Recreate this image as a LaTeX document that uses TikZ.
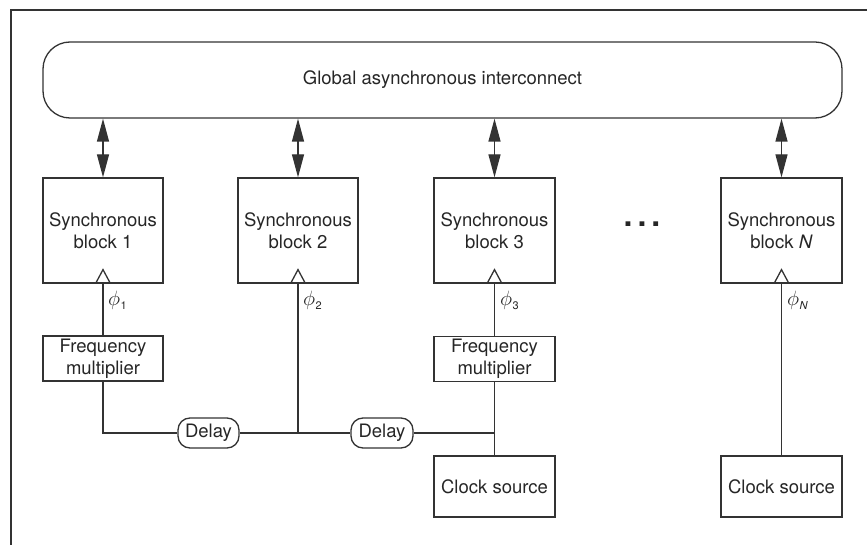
\documentclass[tikz,border=0pt]{standalone}
\usepackage{fontspec}
\setmainfont{TeX Gyre Heros}
\usetikzlibrary{arrows.meta}
\definecolor{linecol}{HTML}{333333}
\definecolor{txtcol}{HTML}{262626}
\newcommand{\phisub}[1]{$\phi$\kern0.5pt\raisebox{-4pt}{\fontsize{11}{11}\selectfont #1}}
\tikzset{
  base/.style={draw=linecol, line width=1.3pt, text=txtcol, align=center, inner sep=0pt,
    font=\fontsize{18.5}{22}\selectfont},
  blk/.style={base, minimum width=120pt, minimum height=105pt},
  fmbox/.style={base, minimum width=120pt, minimum height=45pt},
  csbox/.style={base, minimum width=121pt, minimum height=61pt},
  delaybox/.style={base, minimum width=61pt, minimum height=30pt, rounded corners=12pt},
  wire/.style={draw=linecol, line width=1.3pt},
  biarrow/.style={wire, {Triangle[length=23pt,width=12pt]}-{Triangle[length=23pt,width=12pt]}},
  phil/.style={anchor=west, text=txtcol, font=\fontsize{22}{24}\selectfont, inner sep=0pt},
}
\begin{document}
\begin{tikzpicture}[x=1pt,y=-1pt]
\useasboundingbox (0,0) rectangle (867,545);
% frame
\draw[wire, line width=1.5pt] (11,545) -- (11,10) -- (867,10);
% interconnect
\node[base, minimum width=799pt, minimum height=76pt, rounded corners=27pt] (bus) at (442.5,80) {Global asynchronous interconnect};
% blocks
\node[blk] (b1) at (103,230.5) {Synchronous\\block 1};
\node[blk] (b2) at (298,230.5) {Synchronous\\block 2};
\node[blk, minimum width=121pt] (b3) at (494.5,230.5) {Synchronous\\block 3};
\node[blk, minimum width=121pt] (bN) at (781.5,230.5) {Synchronous\\block \textit{N}};
% ellipsis
\node[text=txtcol, inner sep=0pt, font=\fontsize{32}{32}\bfseries] (dots) at (642,224) {.\kern5pt.\kern5pt.};
% arrows
\foreach \b in {b1,b2,b3,bN}{
  \draw[biarrow] (\b.north |- bus.south) -- (\b.north);
  \draw[wire] ([xshift=-7.5pt]\b.south) -- ([yshift=14pt]\b.south) -- ([xshift=7.5pt]\b.south);
}
% frequency multipliers
\node[fmbox] (fm1) at (103,358.5) {Frequency\\multiplier};
\node[fmbox, minimum width=121pt] (fm3) at (494.5,359) {Frequency\\multiplier};
% clock sources
\node[csbox] (cs3) at (494.5,486.5) {Clock source};
\node[csbox] (csN) at (781.5,486.5) {Clock source};
% delays
\node[delaybox] (d1) at (208.5,433) {Delay};
\node[delaybox, minimum width=62pt] (d2) at (382,433) {Delay};
\coordinate (j2) at (298,433);
\coordinate (j3) at (494.5,433);
% wires
\draw[wire] (b1.south) -- (fm1.north);
\draw[wire] (fm1.south) |- (d1.west);
\draw[wire] (d1.east) -- (j2) -- (d2.west);
\draw[wire] (j2) -- (b2.south);
\draw[wire] (d2.east) -- (j3);
\draw[wire] (b3.south) -- (fm3.north);
\draw[wire] (fm3.south) -- (cs3.north);
\draw[wire] (bN.south) -- (csN.north);
% phi labels
\node[phil] (p1) at (108,300) {\phisub{1}};
\node[phil] (p2) at (303,300) {\phisub{2}};
\node[phil] (p3) at (500,300) {\phisub{3}};
\node[phil] (pN) at (787,300) {\phisub{\textit{N}}};
\end{tikzpicture}
\end{document}
